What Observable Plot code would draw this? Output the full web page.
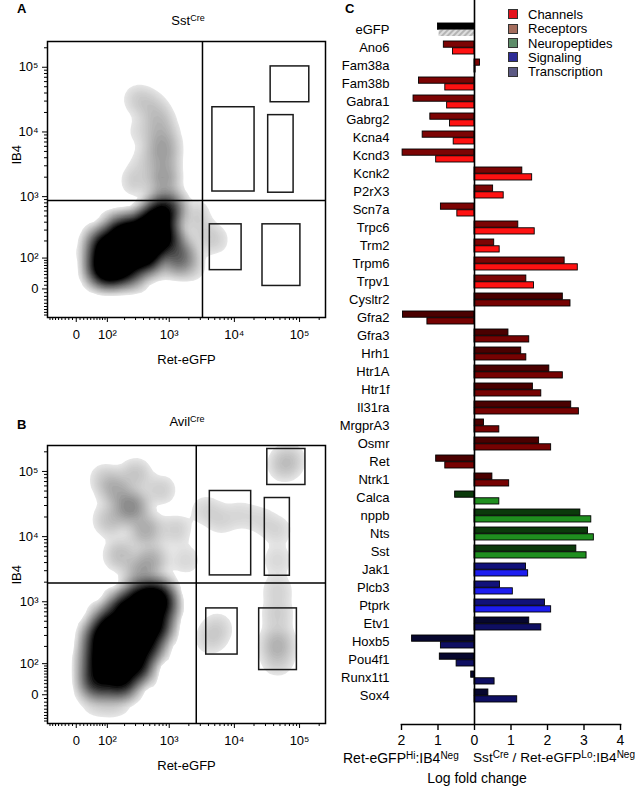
<!DOCTYPE html>
<html>
<head>
<meta charset="utf-8">
<script src="https://cdn.jsdelivr.net/npm/d3@7"></script>
<script src="https://cdn.jsdelivr.net/npm/@observablehq/plot@0.6"></script>
<style>
  body { margin: 0; background: #fff; font-family: "Liberation Sans", Arial, sans-serif; }
  #root { position: relative; width: 635px; height: 787px; overflow: hidden; background: #fff; }
  .abs { position: absolute; white-space: nowrap; color: #000; font-size: 13px; line-height: 1; }
  .abs sup { font-size: 9px; line-height: 0; position: relative; top: -0.5em; vertical-align: baseline; }
  .big { font-size: 14px; }
  .big sup { font-size: 10px; top: -0.45em; }
  .mid { font-size: 13.6px; }
  .mid sup { font-size: 10px; top: -0.45em; }
  .bold { font-weight: bold; }
  .box { position: absolute; width: 10px; height: 10px; box-sizing: border-box; border: 1px solid #333; }
  .holder { position: absolute; }
</style>
</head>
<body>
<svg width="0" height="0" style="position:absolute">
  <defs>
    <pattern id="hatch" patternUnits="userSpaceOnUse" width="4" height="4" patternTransform="rotate(45)">
      <rect width="4" height="4" fill="#dedede"></rect>
      <rect width="2" height="4" fill="#b4b4b4"></rect>
    </pattern>
  </defs>
</svg>
<div id="root"></div>
<script>
// ---------------- Panel A (SstCre) : density populations ----------------
const sstRet   = [84, 115, 158, 207, 268, 359, 429, 614, 733, 876, 84, 105, 211, 429, 171, 514,
                  1339, 1046, 815, 815, 787, 733, 614, 429, 299, 359, 429, 299, 39, 45, 2531, 3603, 5130, 2121, 249];
const sstIB4   = [71, 140, 83, 170, 247, 140, 321, 426, 238, 610, 170, 48, 61, 100, 276, 170,
                  104, 205, 1760, 3580, 6500, 12300, 20900, 29800, 32000, 10300, 3580, 1760, 140, 54, 510, 247, 205, 71, 24];
const sstCells = [10, 10, 10, 10, 10, 10, 10, 10, 10, 9, 7, 8, 8, 8, 8, 8,
                  4, 3, 1.6, 1.1, 1.3, 0.8, 0.5, 0.35, 0.3, 0.3, 0.4, 0.5, 0.45, 0.35, 0.5, 0.4, 0.3, 0.5, 0.6];
const sstGateRet1 = [36000, 4600, 33000, 4200, 27000];
const sstGateRet2 = [141000, 20400, 81000, 12900, 103000];
const sstGateIB41 = [28800, 1200, 1150, 54, 8];
const sstGateIB42 = [103000, 24100, 18200, 370, 370];
const sstSplitRet = 3240;
const sstSplitIB4 = 870;

// ---------------- Panel B (AvilCre) ----------------
const avilRet   = [65, 62, 72, 115, 207, 359, 614, 733, 614, 429, 299, 171, 115, 207, 359, 141,
                   250, 141, 429, 514, 359, 171, 115, 92, 299, 733, 1245, 1777,
                   3603, 6117, 12400, 25100,
                   45900, 45900, 45900, 45900, 45900, 45900,
                   56700, 72600, 5505, 4300, 62, 141];
const avilIB4   = [42, 119, 257, 442, 754, 1075, 1196, 900, 442, 213, 95, 42, 119, 213, 442, 257,
                   28800, 52500, 12800, 4400, 2600, 5280, 18200, 74700, 89000, 52500, 12800, 4400,
                   25900, 18200, 21700, 18200,
                   12800, 4400, 1530, 632, 230, 119,
                   127000, 151000, 397, 257, -13, -13];
const avilCells = [9, 7, 9, 10, 10, 10, 8, 7, 9, 10, 10, 10, 10, 10, 10, 10,
                   2.2, 0.9, 1.1, 1.1, 1.2, 0.7, 0.7, 0.45, 0.55, 0.4, 0.4, 0.3,
                   0.3, 0.3, 0.25, 0.25,
                   0.3, 0.3, 0.35, 0.45, 0.9, 0.5,
                   0.5, 0.35, 0.35, 0.35, 0.5, 0.5];
const avilGateRet1 = [32000, 4200, 29300, 3700, 24000];
const avilGateRet2 = [123000, 18100, 71000, 11200, 91000];
const avilGateIB41 = [62000, 2540, 2510, 146, 74];
const avilGateIB42 = [221000, 50100, 39100, 790, 790];
const avilSplitRet = 2600;
const avilSplitIB4 = 1940;

// ---------------- Flow axes ----------------
const axisDomain = [-90, 250000];
const majorTicks = [0, 100, 1000, 10000, 100000];
const majorLabels = ["0", "10\u00B2", "10\u00B3", "10\u2074", "10\u2075"];
const minorTicks = [-80, -70, -60, -50, -40, -30, -20, -10, 10, 20, 30, 40, 50, 60, 70, 80, 90,
  200, 300, 400, 500, 600, 700, 800, 900, 2000, 3000, 4000, 5000, 6000, 7000, 8000, 9000,
  20000, 30000, 40000, 50000, 60000, 70000, 80000, 90000, 200000];

// ---------------- Panel C ----------------
const genes = ["eGFP", "Ano6", "Fam38a", "Fam38b", "Gabra1", "Gabrg2", "Kcna4", "Kcnd3", "Kcnk2", "P2rX3",
  "Scn7a", "Trpc6", "Trm2", "Trpm6", "Trpv1", "Cysltr2", "Gfra2", "Gfra3", "Hrh1", "Htr1A", "Htr1f",
  "Il31ra", "MrgprA3", "Osmr", "Ret", "Ntrk1", "Calca", "nppb", "Nts", "Sst", "Jak1", "Plcb3", "Ptprk",
  "Etv1", "Hoxb5", "Pou4f1", "Runx1t1", "Sox4"];
const geneClass = ["eGFP",
  "Channels", "Channels", "Channels", "Channels", "Channels", "Channels", "Channels", "Channels", "Channels",
  "Channels", "Channels", "Channels", "Channels", "Channels",
  "Receptors", "Receptors", "Receptors", "Receptors", "Receptors", "Receptors", "Receptors", "Receptors",
  "Receptors", "Receptors", "Receptors",
  "Neuropeptides", "Neuropeptides", "Neuropeptides", "Neuropeptides",
  "Signaling", "Signaling", "Signaling",
  "Transcription", "Transcription", "Transcription", "Transcription", "Transcription"];
const upperBarValues = [-1.00, -0.84, 0.15, -1.52, -1.67, -1.21, -1.42, -1.97, 1.31, 0.51,
  -0.92, 1.20, 0.54, 2.47, 1.42, 2.42, -1.96, 0.93, 1.28, 2.05, 1.60,
  2.65, 0.26, 1.77, -1.05, 0.49, -0.53, 2.90, 3.11, 2.79, 1.41, 0.70, 1.93,
  1.50, -1.71, -0.95, -0.09, 0.38];
const lowerBarValues = [-0.97, -0.59, 0.03, -0.80, -0.75, -0.67, -0.57, -1.05, 1.58, 0.80,
  -0.47, 1.65, 0.69, 2.83, 1.63, 2.63, -1.29, 1.50, 1.42, 2.42, 1.83,
  2.86, 0.68, 2.10, -0.80, 0.95, 0.68, 3.20, 3.27, 3.07, 1.47, 1.05, 2.10,
  1.83, -0.92, -0.49, 0.55, 1.17];
const legendNames = ["Channels", "Receptors", "Neuropeptides", "Signaling", "Transcription"];
const xTicksC = [-2, -1, 0, 1, 2, 3, 4];

// ---------------- styles ----------------
const FONT = "'Liberation Sans', Arial, Helvetica, sans-serif";
const legendColors = {Channels: "#e5121d", Receptors: "#a46d5d", Neuropeptides: "#5e8d6a", Signaling: "#2d2c96", Transcription: "#5c5a84"};
const upperFill = {eGFP: "#000000", Channels: "#7c0404", Receptors: "#4a0000", Neuropeptides: "#0b3a0b", Signaling: "#11117a", Transcription: "#07072e"};
const lowerFill = {eGFP: "url(#hatch)", Channels: "#ff1212", Receptors: "#760202", Neuropeptides: "#1f8f1f", Signaling: "#1d1df0", Transcription: "#0f0f62"};

const root = document.getElementById("root");
const C0 = 75;
const T = v => Math.asinh(v / C0);

function place(el, left, top) {
  const d = document.createElement("div");
  d.className = "holder";
  d.style.left = left + "px";
  d.style.top = top + "px";
  d.appendChild(el);
  root.appendChild(d);
}
function html(text, left, top, cls, center, right) {
  const d = document.createElement("div");
  d.className = "abs " + (cls || "");
  d.innerHTML = text;
  if (right !== undefined) { d.style.right = right + "px"; }
  else d.style.left = left + "px";
  d.style.top = top + "px";
  if (center) d.style.transform = "translateX(-50%)";
  root.appendChild(d);
  return d;
}

function flowPlot(p, thresholds, color) {
  const pts = p.ret.map((r, i) => ({ret: r, ib4: p.ib4[i], w: p.w[i]}));
  const gates = p.gx1.map((_, i) => ({x1: p.gx1[i], x2: p.gx2[i], y1: p.gy1[i], y2: p.gy2[i]}));
  const lab = new Map(majorTicks.map((v, i) => [T(v), majorLabels[i]]));
  return Plot.plot({
    width: 340, height: p.height,
    marginLeft: 47, marginRight: 15, marginTop: p.marginTop, marginBottom: p.marginBottom,
    style: {fontFamily: FONT, fontSize: "13px", color: "#000", background: "transparent", overflow: "visible"},
    x: {type: "linear", domain: axisDomain.map(T)},
    y: {type: "linear", domain: axisDomain.map(T)},
    color: color,
    marks: [
      Plot.density(pts, {x: d => T(d.ret), y: d => T(d.ib4), weight: "w", bandwidth: 7.5,
        thresholds: thresholds, fill: "density", clip: true}),
      Plot.ruleX([p.qx], {x: T, stroke: "#000", strokeWidth: 1.5}),
      Plot.ruleY([p.qy], {y: T, stroke: "#000", strokeWidth: 1.5}),
      Plot.rect(gates, {x1: d => T(d.x1), x2: d => T(d.x2), y1: d => T(d.y1), y2: d => T(d.y2),
        fill: "none", stroke: "#1a1a1a", strokeWidth: 1.5}),
      Plot.frame({stroke: "#000", strokeWidth: 1.5}),
      Plot.axisX(majorTicks.map(T), {tickFormat: t => lab.get(t), tickSize: 5, tickPadding: 7, label: null, fontSize: 13}),
      Plot.axisX(minorTicks.map(T), {tickFormat: () => "", tickSize: 3, label: null}),
      Plot.axisY(majorTicks.map(T), {tickFormat: t => lab.get(t), tickSize: 5, tickPadding: 4, label: null, fontSize: 13}),
      Plot.axisY(minorTicks.map(T), {tickFormat: () => "", tickSize: 3, label: null}),
      Plot.text(["Ret-eGFP"], {frameAnchor: "bottom", dy: 46, fontSize: 13}),
      Plot.text(["IB4"], {frameAnchor: "left", dx: -31, dy: p.ib4dy, rotate: -90, fontSize: 13})
    ]
  });
}

function flowPanel(p) {
  const pre = flowPlot(p, 20, {type: "linear"});
  const dom = pre.scale("color").domain;
  const m = dom[1] * 20 / 19;
  const lo = m * 0.006, hi = m * p.blackAt, n = 34;
  const th = Float64Array.from({length: n}, (_, i) => lo * Math.pow(hi / lo, i / (n - 1)));
  try {
    return flowPlot(p, th, {type: "pow", exponent: 0.5, domain: [lo, hi], range: ["#e6e6e6", "#000000"], interpolate: "rgb", clamp: true});
  } catch (e) {
    return flowPlot(p, 60, {type: "pow", exponent: 0.5, range: ["#e6e6e6", "#000000"], interpolate: "rgb"});
  }
}

// Panel A
place(flowPanel({ret: sstRet, ib4: sstIB4, w: sstCells,
  gx1: sstGateRet1, gx2: sstGateRet2, gy1: sstGateIB41, gy2: sstGateIB42,
  qx: sstSplitRet, qy: sstSplitIB4, height: 375, marginTop: 41, marginBottom: 58, ib4dy: -15, blackAt: 0.36}), 0, 0);
// Panel B
place(flowPanel({ret: avilRet, ib4: avilIB4, w: avilCells,
  gx1: avilGateRet1, gx2: avilGateRet2, gy1: avilGateIB41, gy2: avilGateIB42,
  qx: avilSplitRet, qy: avilSplitIB4, height: 397, marginTop: 55, marginBottom: 64, ib4dy: 0, blackAt: 0.42}), 0, 390);

html("A", 17, 2, "bold", false);
html("Sst<sup>Cre</sup>", 188, 14, "", true);
html("B", 17, 418, "bold", false);
html("Avil<sup>Cre</sup>", 187, 415, "", true);

// Panel C
const rows = genes.map((g, i) => ({gene: g, cls: geneClass[i], upper: upperBarValues[i], lower: lowerBarValues[i]}));
const chartC = Plot.plot({
  width: 300, height: 787,
  marginLeft: 66, marginRight: 15, marginTop: 0, marginBottom: 63,
  style: {fontFamily: FONT, fontSize: "13px", color: "#000", background: "transparent", overflow: "visible"},
  x: {domain: [-2, 4]},
  y: {domain: genes, paddingInner: 0.27, paddingOuter: 0, insetTop: 13.2, insetBottom: 11.6},
  color: {type: "identity"},
  marks: [
    Plot.barX(rows, {x1: 0, x2: "upper", y: "gene", fill: d => upperFill[d.cls], stroke: "#000", strokeWidth: 0.9, insetBottom: 6.77}),
    Plot.barX(rows, {x1: 0, x2: "lower", y: "gene", fill: d => lowerFill[d.cls],
      stroke: d => d.cls === "eGFP" ? "none" : "#000", strokeWidth: 0.9, insetTop: 6.77}),
    Plot.ruleX([0], {stroke: "#000", strokeWidth: 1.6}),
    Plot.frame({anchor: "bottom", stroke: "#000", strokeWidth: 1.6}),
    Plot.axisX({ticks: xTicksC, tickFormat: d => Math.abs(d), tickSize: 6, tickPadding: 5, label: null, fontSize: 14, strokeWidth: 1.4}),
    Plot.axisY({tickSize: 0, tickPadding: 12, label: null, fontSize: 13})
  ]
});
place(chartC, 335, 0);

html("C", 345, 2, "bold", false);
html("Ret-eGFP<sup>Hi</sup>:IB4<sup>Neg</sup>", 343, 751, "big", false);
html("Sst<sup>Cre</sup> / Ret-eGFP<sup>Lo</sup>:IB4<sup>Neg</sup>", 0, 751, "mid", false, 0);
html("Log fold change", 477, 771, "big", true);

// Legend
legendNames.forEach((name, i) => {
  const top = 9.3 + i * 14.35;
  const b = document.createElement("div");
  b.className = "box";
  b.style.left = "508px";
  b.style.top = top + "px";
  b.style.background = legendColors[name];
  root.appendChild(b);
  html(name, 528, top - 1.5, "", false);
});
</script>
</body>
</html>
